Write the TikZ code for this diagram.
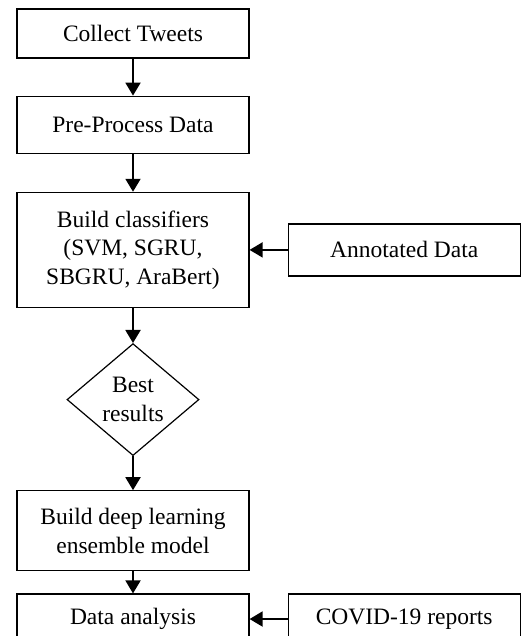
\documentclass[tikz,border=0pt]{standalone}
\usepackage{fontspec}
\setmainfont{Liberation Serif}
\usetikzlibrary{positioning, shapes.geometric, arrows.meta}
\tikzset{
    node distance=37pt, % Vertical gap between two steps
    stepbox/.style={ % Sets the properties for each step
        draw,
        line width=1.2pt,
        minimum width=232pt,
        align=center,
        font=\fontsize{23.5}{28.5}\selectfont
    },
    decision/.style={ % The diamond for the choice
        diamond,
        draw,
        line width=1.2pt,
        minimum width=132pt,
        minimum height=112pt,
        inner sep=0pt,
        align=center,
        font=\fontsize{23.5}{28.5}\selectfont
    },
    every edge/.style={ % Sets the properties for each arrow
        draw,
        -{Triangle[width=15pt,length=13pt]},
        line width=1.9pt
    }
}

\begin{document}
\begin{tikzpicture}
    \useasboundingbox (0,0) rectangle (521pt,-636pt);
    \node[stepbox, minimum height=49pt] (collect) at (133pt,-33.5pt) {Collect Tweets};
    \node[stepbox, minimum height=57pt, below=of collect] (pre) {Pre-Process Data};
    \node[stepbox, minimum height=115pt, below=38pt of pre] (build) {Build classifiers\\(SVM, SGRU,\\SBGRU, AraBert)};
    \node[stepbox, minimum height=52pt, right=38pt of build] (annot) {Annotated Data};
    \node[decision, below=35pt of build] (best) {Best\\results};
    \node[stepbox, minimum height=80pt, below=34pt of best] (deep) {Build deep learning\\ensemble model};
    \node[stepbox, minimum height=50pt, below=22pt of deep] (data) {Data analysis};
    \node[stepbox, minimum height=50pt, right=38pt of data] (covid) {COVID-19 reports};
    \draw   (collect) edge (pre)
            (pre) edge (build)
            (annot) edge (build)
            (build) edge (best)
            (best) edge (deep)
            (deep) edge (data)
            (covid) edge (data);
\end{tikzpicture}
\end{document}
